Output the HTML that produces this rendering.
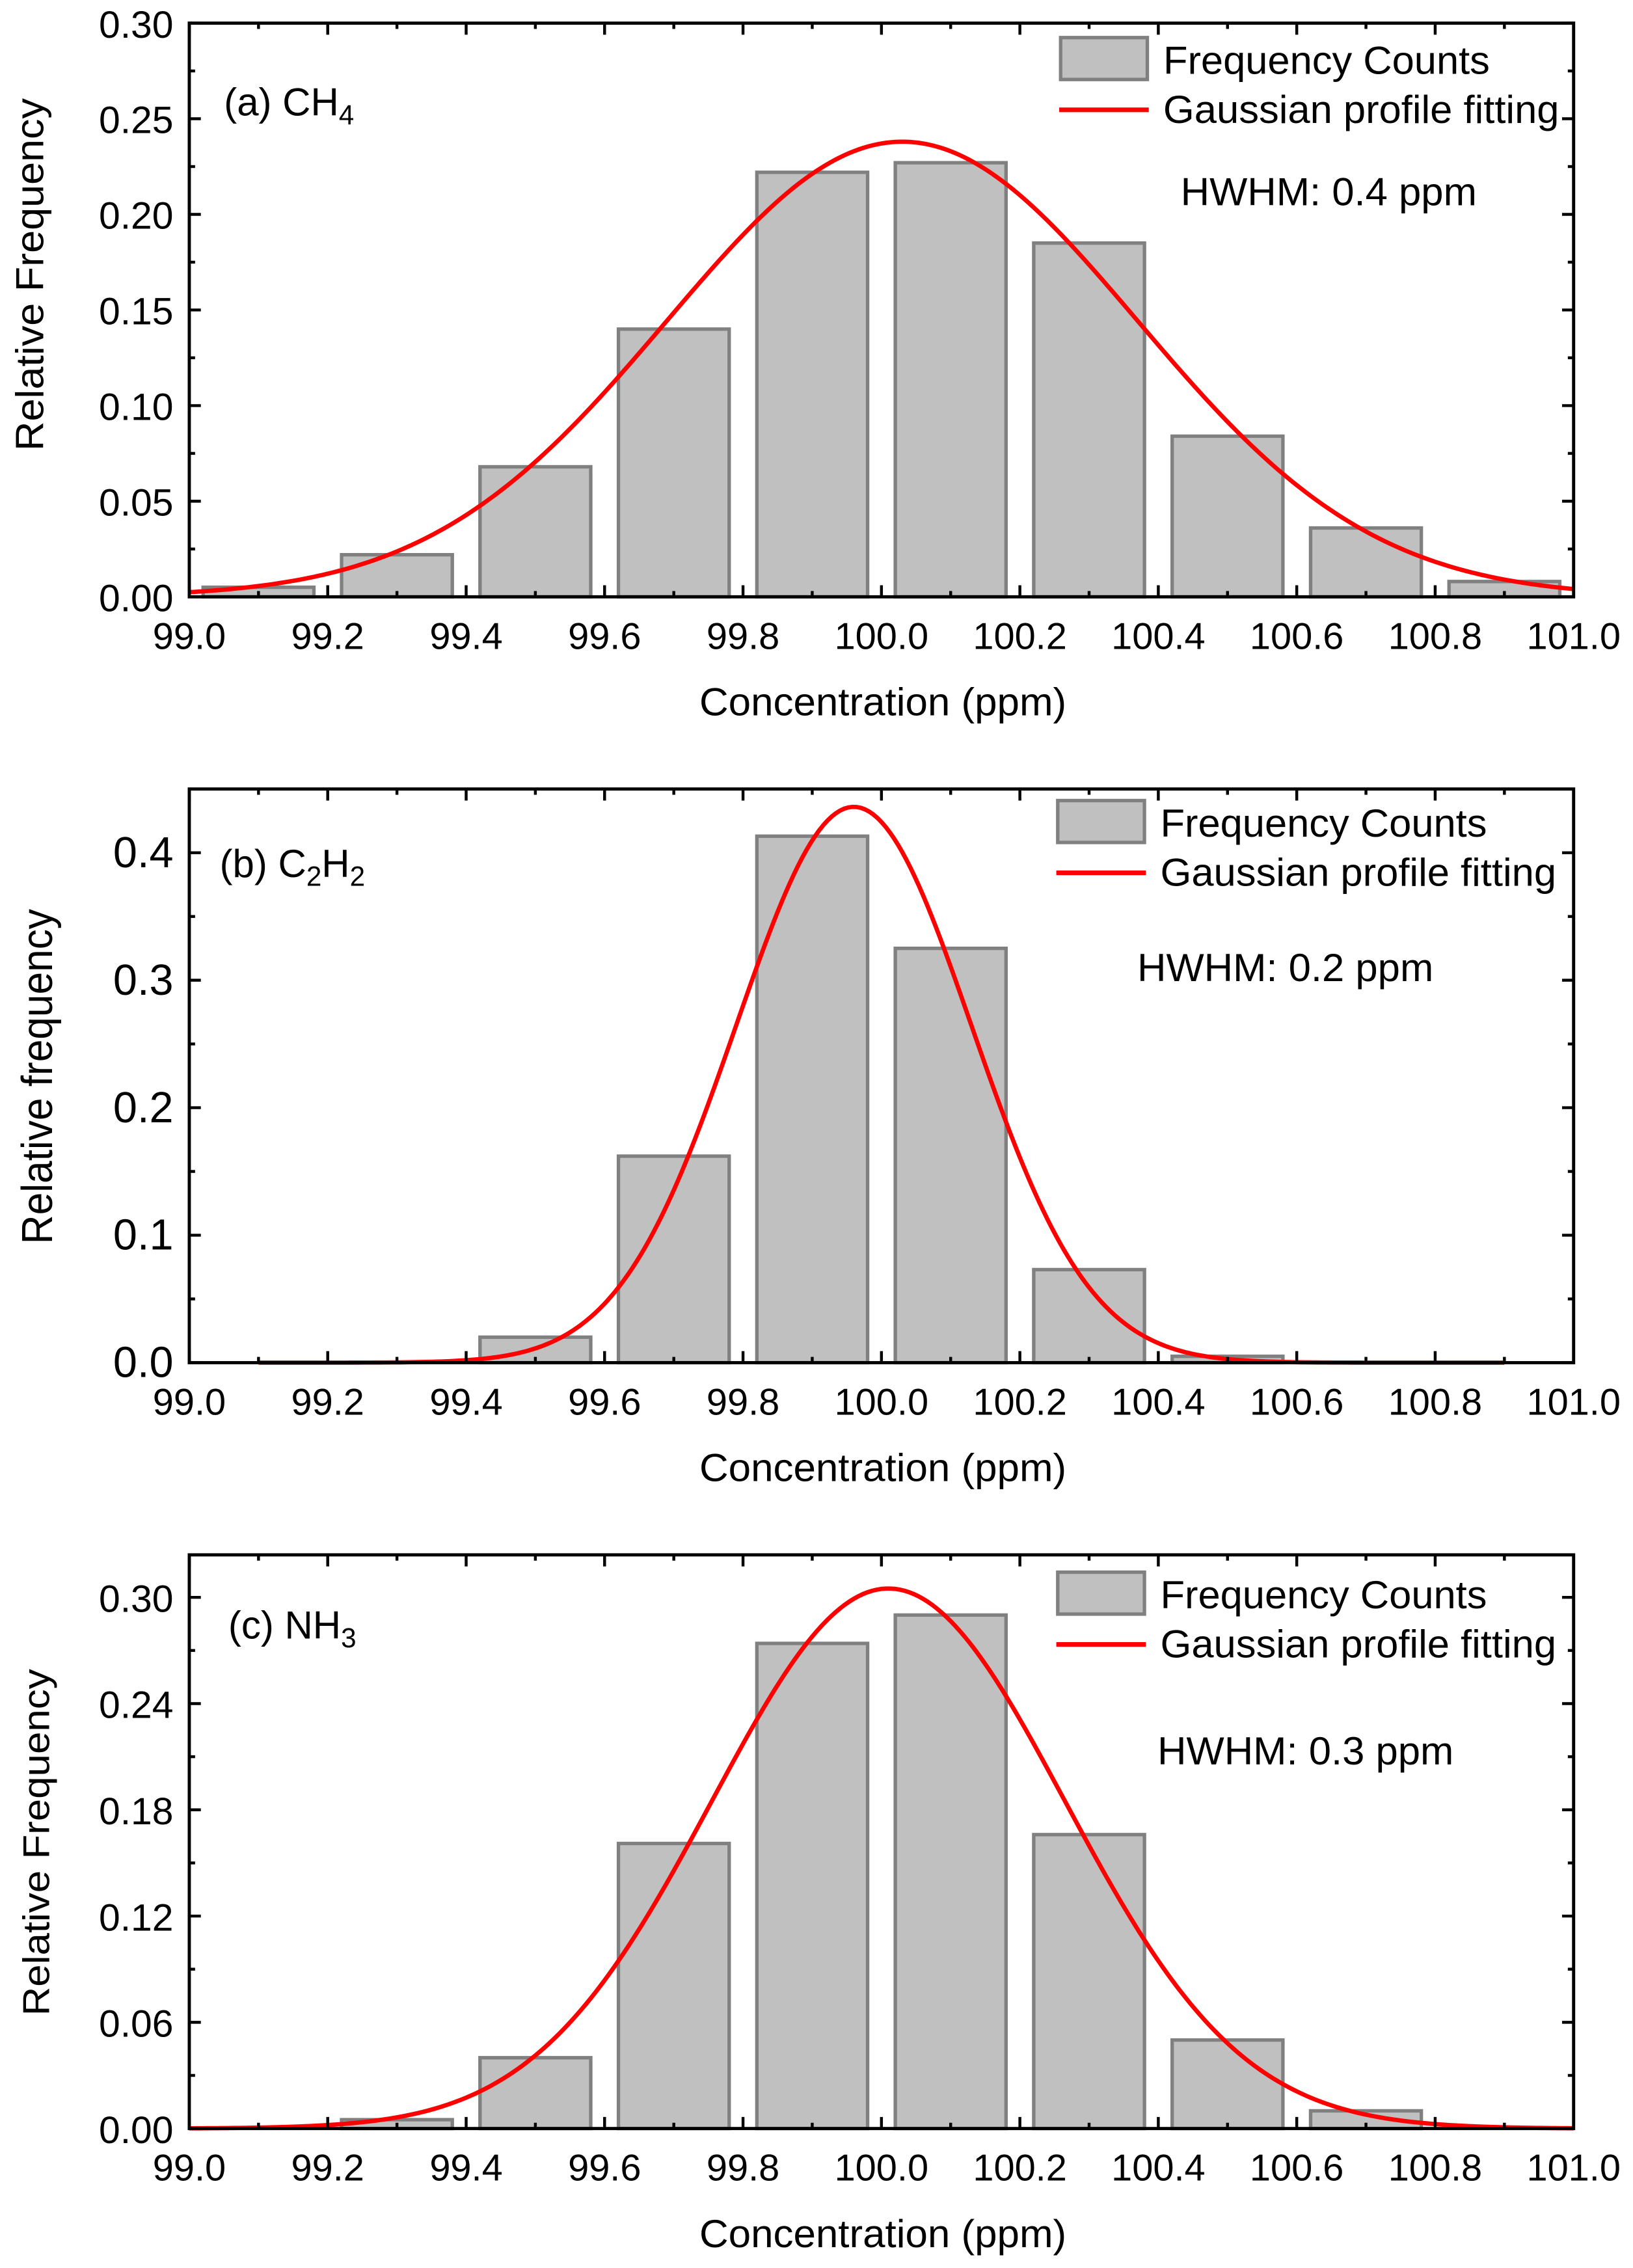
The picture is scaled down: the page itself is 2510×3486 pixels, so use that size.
<!DOCTYPE html>
<html><head><meta charset="utf-8">
<style>html,body{margin:0;padding:0;background:#fff}svg{display:block}text{font-family:"Liberation Sans",Arial,sans-serif;fill:#000}</style>
</head><body>
<svg id="fig" width="2510" height="3486" viewBox="0 0 1130.1 1569.5" xmlns="http://www.w3.org/2000/svg"></svg>
<script>
const binCentersA=[99.1,99.3,99.5,99.7,99.9,100.1,100.3,100.5,100.7,100.9];
const freqA=[0.005,0.022,0.068,0.140,0.222,0.227,0.185,0.084,0.036,0.008];
const binCentersB=[99.5,99.7,99.9,100.1,100.3,100.5];
const freqB=[0.020,0.162,0.413,0.325,0.073,0.005];
const binCentersC=[99.3,99.5,99.7,99.9,100.1,100.3,100.5,100.7];
const freqC=[0.005,0.040,0.161,0.274,0.290,0.166,0.050,0.010];
const fitA=[0.238,100.03,0.34];
const fitB=[0.436,99.96,0.17];
const fitC=[0.305,100.01,0.255];
const xTicks=["99.0","99.2","99.4","99.6","99.8","100.0","100.2","100.4","100.6","100.8","101.0"];
const yTicksA=["0.00","0.05","0.10","0.15","0.20","0.25","0.30"];
const yTicksB=["0.0","0.1","0.2","0.3","0.4"];
const yTicksC=["0.00","0.06","0.12","0.18","0.24","0.30"];

const NS="http://www.w3.org/2000/svg";
const svg=document.getElementById('fig');
function mk(tag,attrs,parent){const e=document.createElementNS(NS,tag);for(const k in attrs)e.setAttribute(k,attrs[k]);(parent||svg).appendChild(e);return e;}

const panels=[
 {id:'a',top:16,bot:413,ymax:0.30,yt:yTicksA,yminor:0.025,cx:binCentersA,v:freqA,fit:fitA,fr:[99.0,101.0],
  label:['(a) CH','4'],lx:155,ly:80,leg:[733,25],hw:[817,142,'HWHM: 0.4 ppm'],ytitle:'Relative Frequency',ytx:30,yty:190,ytl:244,yfs:27},
 {id:'b',top:546,bot:943,ymax:0.45,yt:yTicksB,yminor:0.05,cx:binCentersB,v:freqB,fit:fitB,fr:[99.1,100.9],
  label:['(b) C','2','H','2'],lx:152,ly:607,leg:[731,553],hw:[787,679,'HWHM: 0.2 ppm'],ytitle:'Relative frequency',ytx:36,yty:745,ytl:232,yfs:30},
 {id:'c',top:1076,bot:1473,ymax:0.324,yt:yTicksC,yminor:0.03,cx:binCentersC,v:freqC,fit:fitC,fr:[99.0,101.0],
  label:['(c) NH','3'],lx:158,ly:1134,leg:[731,1087],hw:[801,1221,'HWHM: 0.3 ppm'],ytitle:'Relative Frequency',ytx:34,yty:1275,ytl:240,yfs:26}
];
const L=131,R=1089;
panels.forEach(p=>{
 const g=mk('g',{});
 
 
 const X=v=>L+(v-99)/2*(R-L);
 const Y=v=>p.bot-v/p.ymax*(p.bot-p.top);
 p.cx.forEach((c,i)=>{
  const r=mk('rect',{x:X(c-0.08),y:Y(p.v[i]),width:X(c+0.08)-X(c-0.08),height:p.bot-Y(p.v[i]),fill:'#c0c0c0',stroke:'#808080','stroke-width':2.4},g);
  
  
 });
 let d='';
 for(let i=0;i<=300;i++){const x=p.fr[0]+(p.fr[1]-p.fr[0])*i/300;const y=p.fit[0]*Math.exp(-Math.pow(x-p.fit[1],2)/(2*p.fit[2]*p.fit[2]));d+=(i?'L':'M')+X(x).toFixed(2)+','+Y(y).toFixed(2);}
 const path=mk('path',{d:d,fill:'none',stroke:'#ff0000','stroke-width':3},g);
 
 
 const fr=mk('rect',{x:L,y:p.top,width:R-L,height:p.bot-p.top,fill:'none',stroke:'#000','stroke-width':2.2},g);
 
 
 for(let k=0;k<=20;k++){const x=X(99+k*0.1);const len=k%2?4:8;
  mk('line',{x1:x,x2:x,y1:p.bot,y2:p.bot-len,stroke:'#000','stroke-width':2},g);
  mk('line',{x1:x,x2:x,y1:p.top,y2:p.top+len,stroke:'#000','stroke-width':2},g);}
 xTicks.forEach((t,i)=>{const tx=mk('text',{x:X(99+i*0.2),y:p.bot+36,'text-anchor':'middle','font-size':26},g);tx.textContent=t;
  
  });
 const step=parseFloat(p.yt[1]);
 for(let v=0;v<=p.ymax+1e-9;v+=p.yminor){const y=Y(v);const major=Math.abs(v/step-Math.round(v/step))<1e-6;const len=major?8:4;
  mk('line',{x1:L,x2:L+len,y1:y,y2:y,stroke:'#000','stroke-width':2},g);
  mk('line',{x1:R,x2:R-len,y1:y,y2:y,stroke:'#000','stroke-width':2},g);}
 p.yt.forEach(t=>{const tx=mk('text',{x:L-11,y:Y(parseFloat(t))+10,'text-anchor':'end','font-size':p.id==='b'?30:26.5},g);tx.textContent=t;
  
  });
 const xt=mk('text',{x:611,y:p.bot+82,'text-anchor':'middle','font-size':27,textLength:254,lengthAdjust:'spacingAndGlyphs'},g);xt.textContent='Concentration (ppm)';
 
 
 const yt=mk('text',{x:0,y:0,'text-anchor':'middle','font-size':p.yfs,textLength:p.ytl,lengthAdjust:'spacingAndGlyphs',transform:`translate(${p.ytx},${p.yty}) rotate(-90)`},g);yt.textContent=p.ytitle;
 
 
 const lb=mk('text',{x:p.lx,y:p.ly,'font-size':27},g);
 
 
 p.label.forEach((s,i)=>{const ts=mk('tspan',{},lb);ts.textContent=s;if(i%2){ts.setAttribute('font-size','19');ts.setAttribute('dy','6');}else if(i>0){ts.setAttribute('dy','-6');}});
 const [lx,ly]=p.leg;
 const lr=mk('rect',{x:lx+1,y:ly+1,width:60,height:29,fill:'#c0c0c0',stroke:'#808080','stroke-width':2.4},g);
 
 
 const lt1=mk('text',{x:lx+72,y:ly+26,'font-size':27,textLength:226,lengthAdjust:'spacingAndGlyphs'},g);lt1.textContent='Frequency Counts';
 
 
 const ll=mk('line',{x1:lx,x2:lx+62,y1:ly+51,y2:ly+51,stroke:'#ff0000','stroke-width':3.2},g);
 
 
 const lt2=mk('text',{x:lx+72,y:ly+60,'font-size':27,textLength:274,lengthAdjust:'spacingAndGlyphs'},g);lt2.textContent='Gaussian profile fitting';
 
 
 const hw=mk('text',{x:p.hw[0],y:p.hw[1],'font-size':27,textLength:205,lengthAdjust:'spacingAndGlyphs'},g);hw.textContent=p.hw[2];
 
 
});
</script>
</body></html>
